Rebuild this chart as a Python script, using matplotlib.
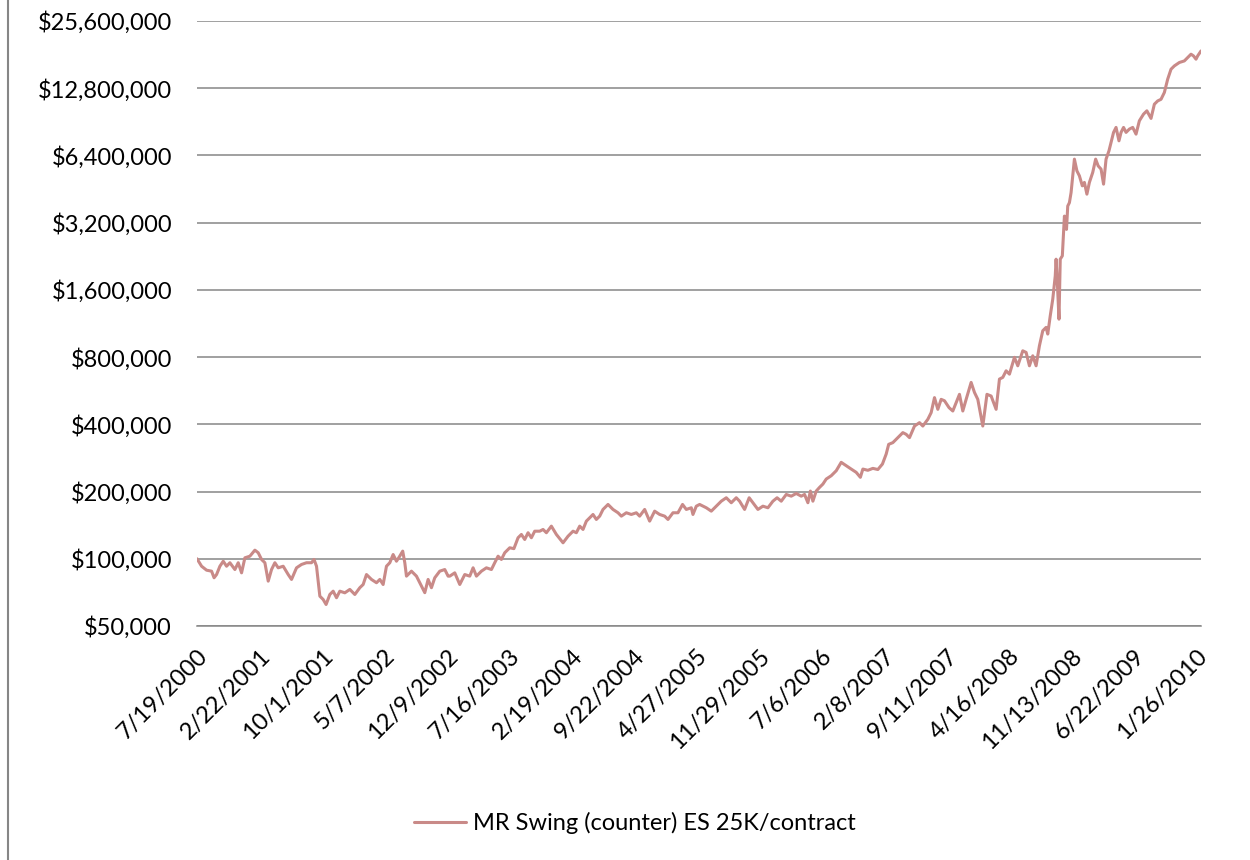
import matplotlib
matplotlib.use("Agg")
import matplotlib.pyplot as plt
from matplotlib.ticker import FixedLocator, FuncFormatter, NullLocator
from matplotlib.lines import Line2D

plt.rcParams['font.family'] = ['Lato', 'DejaVu Sans']

# trading-day number since 7/19/2000
day = [0, 11, 23, 35, 41, 47, 55, 63, 71, 79, 91, 99, 107, 115, 127, 139, 147, 155, 163, 171,
       179, 187, 195, 207, 219, 227, 239, 251, 263, 275, 281, 287, 295, 303, 310, 319, 327, 335, 343, 355,
       367, 379, 391, 399, 407, 419, 431, 439, 447, 455, 463, 471, 479, 486, 494, 499, 503, 515, 527, 535,
       547, 555, 563, 571, 583, 595, 603,
       607, 619, 631, 643, 655, 663, 671, 683, 695, 707, 715, 723, 731, 739, 751, 761, 771, 779, 787, 795,
       803, 811, 823, 831, 839, 851, 863, 879, 891, 903, 911, 919, 927, 935, 943, 951, 959, 967, 975, 987,
       999, 1011, 1019, 1031, 1043, 1055, 1063, 1075, 1087, 1099, 1111, 1123, 1131, 1143, 1155, 1166, 1175,
       1187, 1191, 1199, 1207,
       1223, 1235, 1247, 1259, 1271, 1283, 1295, 1303, 1315, 1326, 1335, 1347, 1359, 1371, 1383, 1393, 1403,
       1415, 1427, 1439, 1451, 1459, 1467, 1473, 1479, 1487, 1495, 1503, 1511, 1523, 1535, 1547, 1559, 1571,
       1583, 1593, 1599, 1611, 1623, 1635, 1646, 1655, 1661, 1671, 1683, 1695, 1703, 1711,
       1723, 1735, 1743, 1755, 1763, 1771, 1779, 1787, 1795, 1806, 1815, 1823, 1831, 1839, 1847, 1859, 1867,
       1875, 1887, 1897, 1907, 1919, 1927, 1935, 1943, 1951, 1963, 1971, 1983, 1991, 1999, 2007, 2015, 2023,
       2031, 2039, 2043, 2049, 2055, 2061, 2063, 2066, 2070, 2073, 2078, 2083, 2088, 2091, 2095, 2099, 2103,
       2107, 2113, 2119, 2126, 2131, 2137, 2143, 2151, 2158, 2164, 2171, 2177, 2183, 2190, 2195, 2201, 2207,
       2214, 2219, 2225, 2231, 2239, 2247, 2255, 2263, 2273, 2281, 2291, 2299, 2307, 2315, 2323, 2331, 2339,
       2347, 2359, 2371, 2379, 2387, 2393, 2399, 2403, 2411]

# account equity in $ thousands
equity_k = [100, 92.6, 88.9, 88.0, 82.2, 85.0, 92.6, 97.5, 92.6, 96.0,
            89.5, 96.0, 86.5, 101.0, 102.7, 109.3, 106.4, 99.3, 96.0, 79.4,
            89.5, 96.0, 91.1, 92.6, 85.0, 80.8, 91.1, 94.3, 96.0, 96.0,
            99.3, 92.6, 68.0, 65.7, 62.4, 69.2, 71.6, 66.9, 71.6, 70.4,
            72.9, 69.2, 74.2, 76.7, 85.0, 80.8, 78.1, 80.8, 76.7, 92.6,
            96.0, 104.5, 97.5, 102.1, 108.2, 96.0, 83.6, 88.0, 83.6, 78.1,
            70.5, 80.8, 74.2, 82.2, 88.0, 89.5, 83.6,
            83.6, 86.5, 76.7, 85.0, 83.6, 91.1, 83.6, 88.0, 91.1, 89.5,
            96.0, 102.7, 99.3, 106.4, 112.0, 111.0, 124.2, 128.5, 122.0, 130.8,
            124.2, 132.9, 132.9, 135.3, 130.8, 140.0, 128.5, 117.9, 126.2, 132.9,
            130.8, 140.0, 135.3, 147.4, 152.6, 157.9, 150.0, 155.2, 166.3, 175.1,
            166.3, 160.7, 155.2, 160.7, 157.9, 160.7, 155.2, 166.3, 147.4, 163.4,
            157.9, 155.2, 150.0, 160.7, 160.7, 175.1, 166.3, 169.2, 157.9, 172.0,
            175.1,
            169.2, 163.4, 172.0, 181.1, 187.6, 178.2, 187.6, 181.1, 166.3, 187.6,
            178.2, 166.3, 172.0, 169.2, 181.1, 187.6, 181.1, 194.1, 190.7, 196.1,
            190.7, 194.1, 178.2, 201.0, 181.1, 201.0, 208.8, 216.0, 227.5, 235.4,
            247.8, 270.3, 261.0, 252.2, 243.8, 231.6, 252.2, 249.0, 254.0, 251.0,
            265.6, 294.4, 325.4, 331.2, 348.7, 367.2, 360.8, 348.7,
            393, 407, 393, 421.2, 451.3, 526.8, 466.9, 517.5, 510, 475,
            458.9, 500.4, 545, 458.9, 517.5, 616.2, 555.8, 517.5, 393, 545,
            535.6, 466.9, 637.7, 648.9, 694.6, 671, 798, 731.4, 853.6, 839.7,
            731.4, 810.8, 731.4, 899, 1049.5, 1086.8, 1014.5, 1225, 1453.7, 1848.5,
            2196, 1726, 1182.8, 2196, 2272, 3424, 2985, 3798, 3933, 4362,
            5185, 6160, 5460, 5185, 4677, 4845, 4293, 4845, 5370, 6160,
            5748, 5556, 4760, 6160, 6711, 7318, 8115, 8543, 7440, 8115,
            8543, 8115, 8397, 8543, 7972, 9146, 9798, 10138, 9376, 10852,
            11228, 11417, 12245, 14048, 15571, 16110, 16685, 16960, 17569, 18176,
            17858, 17265, 17858, 18800]

y_ticks = [50000 * 2 ** k for k in range(10)]
x_tick_labels = ["7/19/2000", "2/22/2001", "10/1/2001", "5/7/2002", "12/9/2002",
                 "7/16/2003", "2/19/2004", "9/22/2004", "4/27/2005", "11/29/2005",
                 "7/6/2006", "2/8/2007", "9/11/2007", "4/16/2008", "11/13/2008",
                 "6/22/2009", "1/26/2010"]
tick_step = 150
series_name = "MR Swing (counter) ES 25K/contract"

equity = [v * 1000 for v in equity_k]

fig = plt.figure(figsize=(12.5, 8.6), dpi=100)
ax = fig.add_axes([0.1576, 0.2721, 0.8032, 0.7035])

ax.plot(day, equity, color='#C98A88', lw=2.2, solid_joinstyle='round',
        solid_capstyle='round', label=series_name, zorder=3)

ax.set_yscale('log', base=2)
ax.set_ylim(50000, 25600000)
ax.yaxis.set_major_locator(FixedLocator(y_ticks))
ax.yaxis.set_minor_locator(NullLocator())
ax.yaxis.set_major_formatter(FuncFormatter(lambda v, p: f"${v:,.0f}"))

ax.set_xlim(day[0], day[-1])
ax.set_xticks([i * tick_step for i in range(len(x_tick_labels))])
ax.set_xticklabels(x_tick_labels, rotation=45, ha='right', va='top',
                   rotation_mode='anchor')

ax.grid(axis='y', color='#868686', lw=1.1)
ax.set_axisbelow(True)
for s in ['top', 'right', 'left']:
    ax.spines[s].set_visible(False)
ax.spines['bottom'].set_color('#868686')
ax.spines['bottom'].set_linewidth(1.1)
ax.tick_params(axis='both', length=0, labelsize=17, colors='black')
ax.tick_params(axis='y', pad=18)
ax.tick_params(axis='x', pad=14)

fig.add_artist(Line2D([0.0064, 0.0064], [0, 1], transform=fig.transFigure,
                      color='#868686', lw=1.5))

fig.legend(loc='center', bbox_to_anchor=(0.508, 0.043), frameon=False,
           fontsize=17, handlelength=2.2, handletextpad=0.3)

fig.savefig("out.png", dpi=100)
